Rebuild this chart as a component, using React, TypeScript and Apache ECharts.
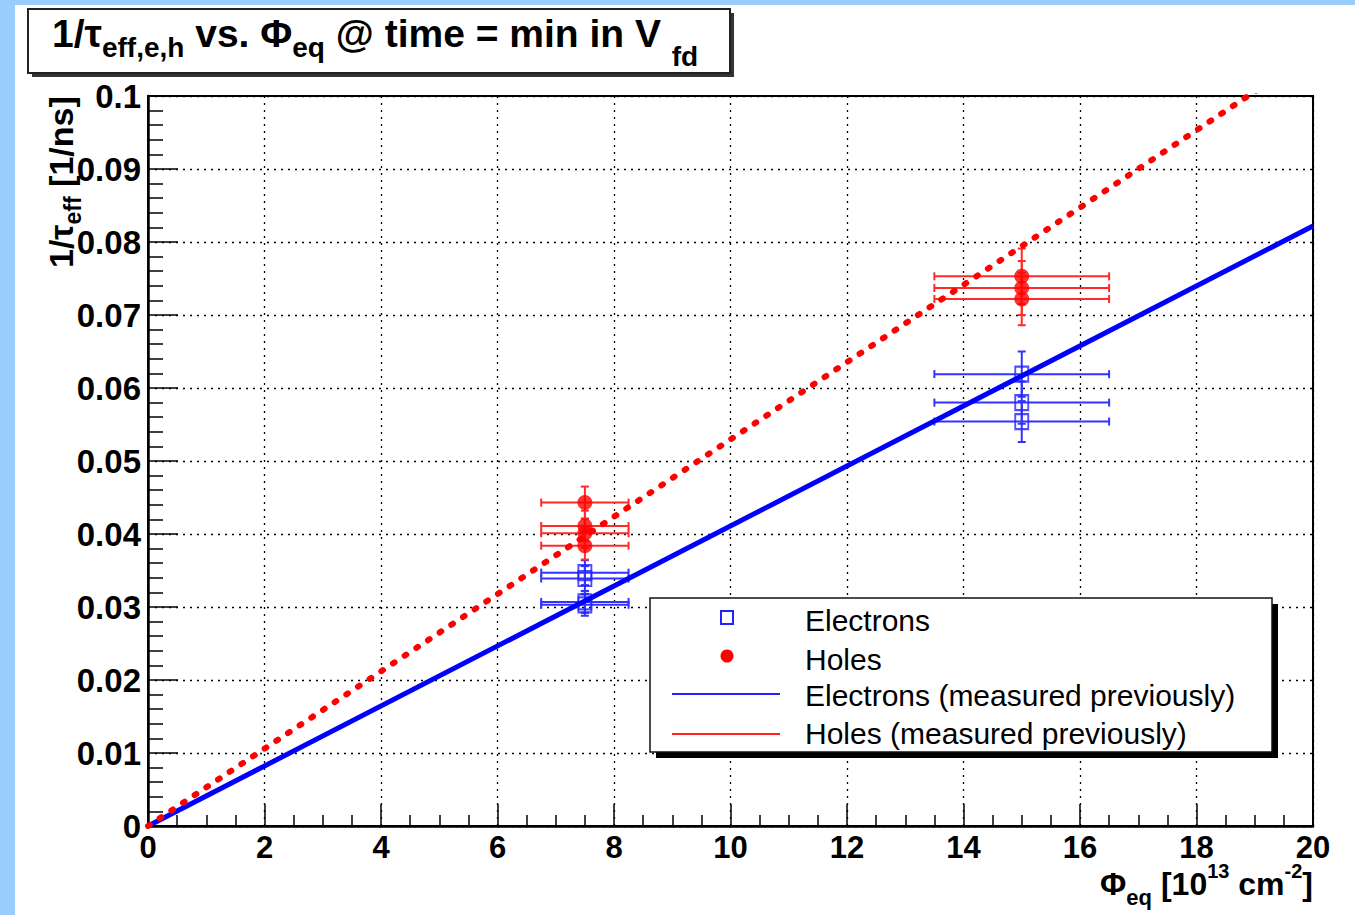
import React, { useEffect, useRef } from "react";
import * as echarts from "echarts";

// ---- axis ranges ----
const xRange = [0, 20];
const yRange = [0, 0.1];
const xStep = 2;
const yStep = 0.01;

// ---- measured points (x, y, x-error, y-error) ----
const electronsX = [7.5, 7.5, 7.5, 7.5, 15, 15, 15];
const electronsY = [0.0347, 0.0339, 0.0307, 0.0303, 0.0619, 0.058, 0.0554];
const electronsXErr = [0.75, 0.75, 0.75, 0.75, 1.5, 1.5, 1.5];
const electronsYErr = [0.0017, 0.0017, 0.0015, 0.0015, 0.0031, 0.0029, 0.0028];

const holesX = [7.5, 7.5, 7.5, 7.5, 15, 15, 15];
const holesY = [0.0443, 0.0411, 0.0401, 0.0384, 0.0753, 0.0737, 0.0722];
const holesXErr = [0.75, 0.75, 0.75, 0.75, 1.5, 1.5, 1.5];
const holesYErr = [0.0022, 0.0021, 0.002, 0.0019, 0.0038, 0.0037, 0.0036];

// ---- previously measured (straight lines) ----
const electronsPrevX = [0, 20];
const electronsPrevY = [0, 0.0822];
const holesPrevX = [0, 20];
const holesPrevY = [0, 0.1059];

// ---- legend labels ----
const legendLabels = [
  "Electrons",
  "Holes",
  "Electrons (measured previously)",
  "Holes (measured previously)",
];

const FONT = "'Liberation Sans', Arial, Helvetica, sans-serif";

function errorSeries(xs: number[], ys: number[], exs: number[], eys: number[], color: string) {
  const data = xs.map((x, i) => [x, ys[i], exs[i], eys[i]]);
  return {
    type: "custom",
    data,
    encode: { x: 0, y: 1 },
    z: 3,
    renderItem: (params: any, api: any) => {
      const x = api.value(0);
      const y = api.value(1);
      const ex = api.value(2);
      const ey = api.value(3);
      const c = api.coord([x, y]);
      const l = api.coord([x - ex, y]);
      const r = api.coord([x + ex, y]);
      const t = api.coord([x, y + ey]);
      const b = api.coord([x, y - ey]);
      const cap = 4;
      const style = { stroke: color, lineWidth: 2 };
      return {
        type: "group",
        children: [
          { type: "line", shape: { x1: l[0], y1: c[1], x2: r[0], y2: c[1] }, style },
          { type: "line", shape: { x1: l[0], y1: c[1] - cap, x2: l[0], y2: c[1] + cap }, style },
          { type: "line", shape: { x1: r[0], y1: c[1] - cap, x2: r[0], y2: c[1] + cap }, style },
          { type: "line", shape: { x1: c[0], y1: t[1], x2: c[0], y2: b[1] }, style },
          { type: "line", shape: { x1: c[0] - cap, y1: t[1], x2: c[0] + cap, y2: t[1] }, style },
          { type: "line", shape: { x1: c[0] - cap, y1: b[1], x2: c[0] + cap, y2: b[1] }, style },
        ],
      };
    },
  };
}

function tok(size: number, padTop: number) {
  return {
    fontSize: size,
    fontWeight: "bold",
    fontFamily: FONT,
    verticalAlign: "top",
    padding: [padTop, 0, 0, 0],
  };
}

export default function App() {
  const ref = useRef<HTMLDivElement>(null);

  useEffect(() => {
    if (!ref.current) return;
    const chart = echarts.init(ref.current, undefined, { renderer: "svg" });

    const gridLine = { show: true, lineStyle: { color: "#000", width: 1.3, type: [2, 5] } };

    const option: any = {
      animation: false,
      backgroundColor: "transparent",
      grid: {
        left: 148,
        top: 96,
        width: 1165,
        height: 730,
        show: true,
        backgroundColor: "#fff",
        borderColor: "#000",
        borderWidth: 2,
      },
      xAxis: {
        type: "value",
        min: xRange[0],
        max: xRange[1],
        interval: xStep,
        axisLine: { show: true, onZero: false, lineStyle: { color: "#000", width: 2.5 } },
        axisTick: { show: true, inside: true, length: 22, lineStyle: { color: "#000", width: 1.5 } },
        minorTick: { show: true, splitNumber: 4, length: 11, lineStyle: { color: "#000", width: 1.5 } },
        splitLine: gridLine,
        axisLabel: {
          color: "#000",
          fontFamily: FONT,
          fontWeight: "bold",
          fontSize: 31,
          margin: 6,
          showMinLabel: true,
          showMaxLabel: true,
        },
      },
      yAxis: {
        type: "value",
        min: yRange[0],
        max: yRange[1],
        interval: yStep,
        axisLine: { show: true, onZero: false, lineStyle: { color: "#000", width: 2.5 } },
        axisTick: { show: true, inside: true, length: 30, lineStyle: { color: "#000", width: 1.5 } },
        minorTick: { show: true, splitNumber: 5, length: 15, lineStyle: { color: "#000", width: 1.5 } },
        splitLine: gridLine,
        axisLabel: {
          color: "#000",
          fontFamily: FONT,
          fontWeight: "bold",
          fontSize: 33,
          margin: 7,
          showMinLabel: true,
          showMaxLabel: true,
          formatter: (v: number) => (v === 0 ? "0" : String(parseFloat(v.toFixed(3)))),
        },
      },
      series: [
        errorSeries(electronsX, electronsY, electronsXErr, electronsYErr, "#3333ff"),
        errorSeries(holesX, holesY, holesXErr, holesYErr, "#ff2a2a"),
        {
          type: "scatter",
          name: legendLabels[0],
          data: electronsX.map((x, i) => [x, electronsY[i]]),
          symbol: "rect",
          symbolSize: [13, 15],
          itemStyle: { color: "rgba(255,255,255,0)", borderColor: "#2222ff", borderWidth: 2 },
          z: 4,
        },
        {
          type: "scatter",
          name: legendLabels[1],
          data: holesX.map((x, i) => [x, holesY[i]]),
          symbol: "circle",
          symbolSize: 15,
          itemStyle: { color: "#ff0000" },
          z: 4,
        },
        {
          type: "line",
          name: legendLabels[2],
          data: electronsPrevX.map((x, i) => [x, electronsPrevY[i]]),
          showSymbol: false,
          symbol: "none",
          clip: true,
          lineStyle: { color: "#0000ff", width: 5 },
          z: 5,
        },
        {
          type: "line",
          name: legendLabels[3],
          data: holesPrevX.map((x, i) => [x, holesPrevY[i]]),
          showSymbol: false,
          symbol: "none",
          clip: true,
          lineStyle: { color: "#ff0000", width: 6, type: [2, 12], cap: "round" },
          z: 5,
        },
      ],
      graphic: [
        // title box
        { type: "rect", shape: { x: 32, y: 13, width: 702, height: 64 }, style: { fill: "#333" }, z: 10 },
        {
          type: "rect",
          shape: { x: 28, y: 9, width: 702, height: 64 },
          style: { fill: "#fff", stroke: "#222", lineWidth: 2 },
          z: 11,
        },
        {
          type: "text",
          x: 52,
          y: 14,
          z: 12,
          style: {
            text: "{m|1/τ}{s|eff,e,h}{m| vs. Φ}{s|eq}{m| @ time = min in V }{f|fd}",
            fontFamily: FONT,
            fontWeight: "bold",
            fill: "#000",
            verticalAlign: "top",
            align: "left",
            rich: {
              m: tok(39, 0),
              s: tok(28, 19),
              f: tok(28, 28),
            },
          },
        },
        // y-axis title
        {
          type: "text",
          x: 44,
          y: 268,
          rotation: Math.PI / 2,
          z: 12,
          style: {
            text: "{m|1/τ}{s|eff}{m| [1/ns]}",
            fontFamily: FONT,
            fontWeight: "bold",
            fill: "#000",
            verticalAlign: "top",
            align: "left",
            rich: {
              m: tok(34, 0),
              s: tok(23, 17),
            },
          },
        },
        // x-axis title
        {
          type: "text",
          x: 1313,
          y: 858,
          z: 12,
          style: {
            text: "{m|Φ}{s|eq}{m| [10}{p|13}{m| cm}{p|-2}{m|]}",
            fontFamily: FONT,
            fontWeight: "bold",
            fill: "#000",
            verticalAlign: "top",
            align: "right",
            rich: {
              m: tok(32, 10),
              s: tok(22, 28),
              p: tok(20, 3),
            },
          },
        },
        // legend box
        { type: "rect", shape: { x: 656, y: 604, width: 622, height: 154 }, style: { fill: "#000" }, z: 20 },
        {
          type: "rect",
          shape: { x: 650, y: 598, width: 622, height: 154 },
          style: { fill: "#fff", stroke: "#111", lineWidth: 1.5 },
          z: 21,
        },
        {
          type: "rect",
          shape: { x: 721, y: 611, width: 12, height: 13 },
          style: { fill: "none", stroke: "#2222ff", lineWidth: 2 },
          z: 22,
        },
        { type: "circle", shape: { cx: 727, cy: 656, r: 6.5 }, style: { fill: "#ff0000" }, z: 22 },
        { type: "line", shape: { x1: 672, y1: 694, x2: 780, y2: 694 }, style: { stroke: "#2222ff", lineWidth: 2 }, z: 22 },
        { type: "line", shape: { x1: 672, y1: 734, x2: 780, y2: 734 }, style: { stroke: "#ff2222", lineWidth: 2 }, z: 22 },
        ...legendLabels.map((t, i) => ({
          type: "text",
          x: 805,
          y: [620, 659, 695, 733][i],
          z: 22,
          style: {
            text: t,
            fontFamily: FONT,
            fontSize: 30,
            fill: "#000",
            align: "left",
            verticalAlign: "middle",
          },
        })),
      ],
    };

    chart.setOption(option);
    return () => chart.dispose();
  }, []);

  return (
    <div style={{ position: "fixed", left: 0, top: 0, width: 1355, height: 915, background: "#99ccff" }}>
      <div style={{ position: "absolute", left: 15, top: 5, right: 0, bottom: 0, background: "#fff" }} />
      <div ref={ref} style={{ position: "absolute", left: 0, top: 0, width: 1355, height: 915 }} />
    </div>
  );
}
